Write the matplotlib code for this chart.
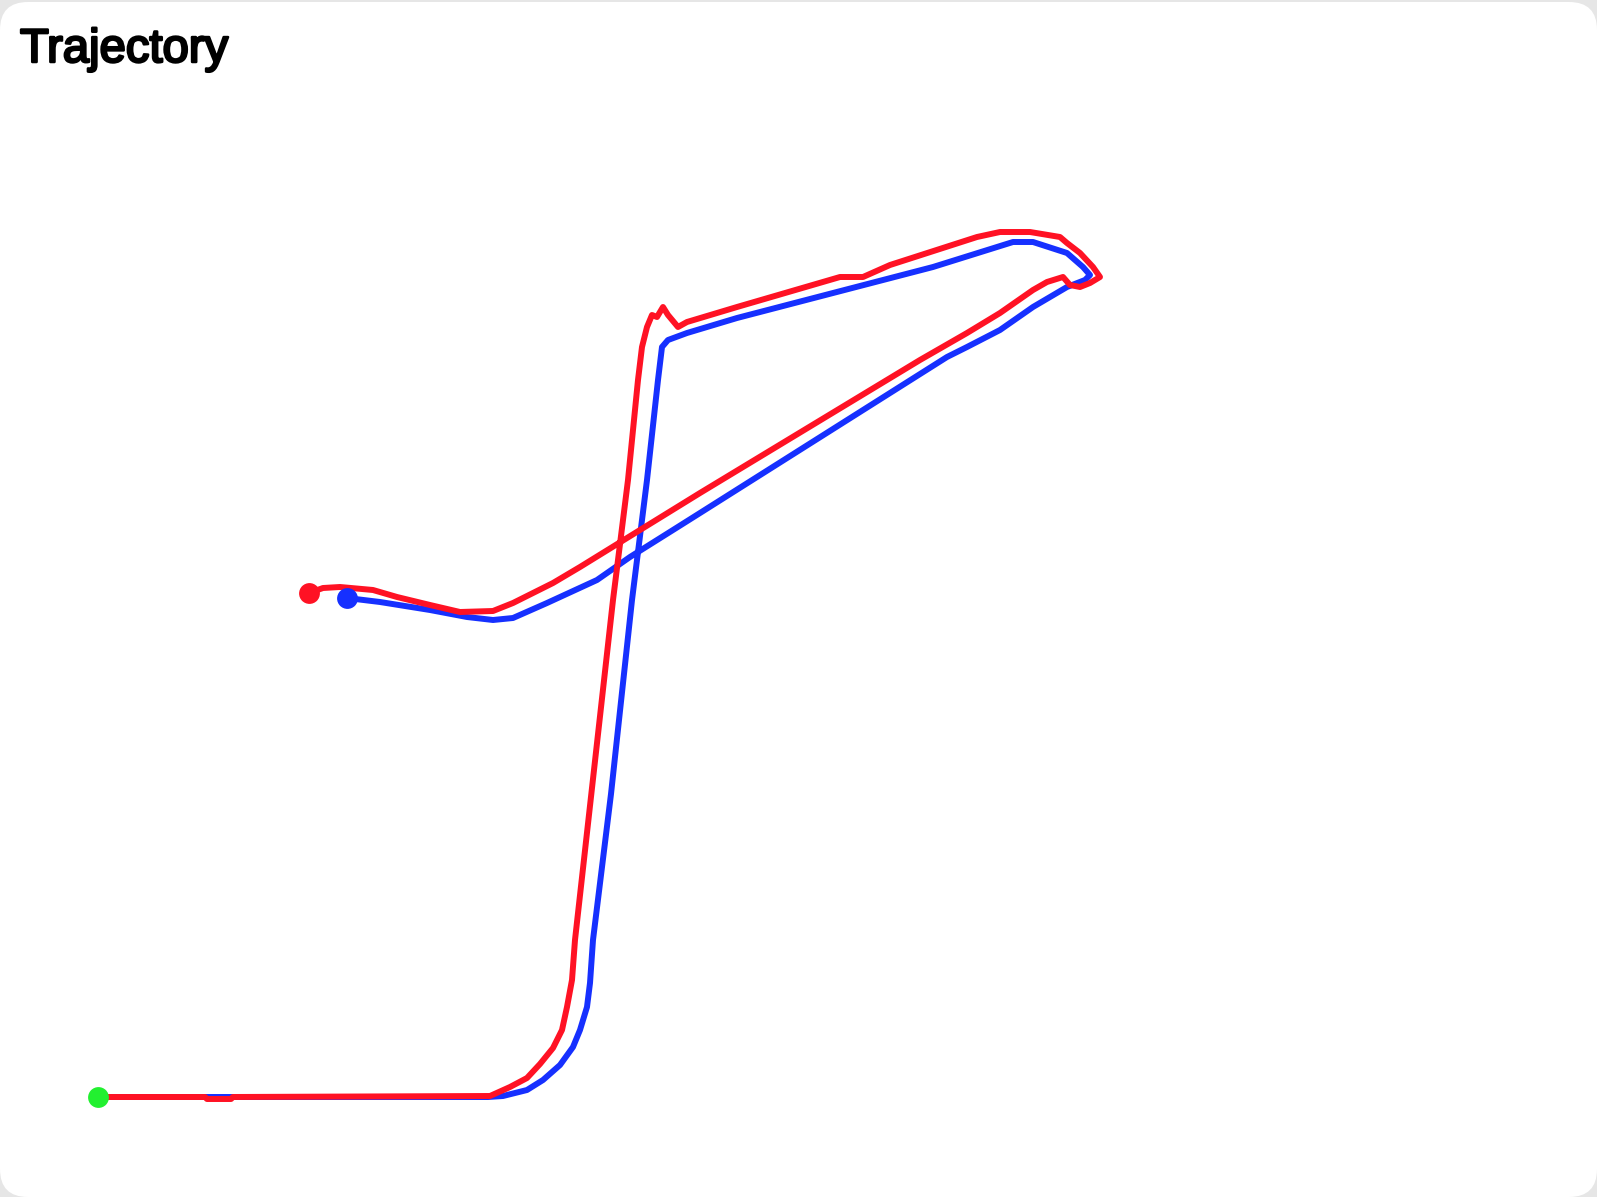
import matplotlib
matplotlib.use("Agg")
import matplotlib.pyplot as plt
from matplotlib.patches import FancyBboxPatch
import matplotlib.patheffects as pe

# Trajectory data (image-plane coordinates, y grows downward)
start_point = (98, 1097)

blue_x = [98, 488, 503, 527, 543, 560, 573, 580, 587, 590, 593, 611, 632, 647, 658, 662, 668,
          687, 737, 833, 933, 1013, 1033, 1067, 1083, 1090, 1085, 1067, 1033, 1000, 967, 947,
          700, 673, 630, 597, 547, 513, 493, 467, 430, 380, 347]
blue_y = [1097, 1097, 1096, 1090, 1080, 1065, 1047, 1030, 1007, 983, 940, 794, 600, 480, 380, 347, 340,
          333, 318, 293, 267, 242, 242, 253, 267, 275, 280, 287, 307, 330, 347, 357,
          513, 530, 557, 580, 603, 618, 620, 617, 610, 602, 598]

red_x = [98, 205, 207, 231, 233, 490, 510, 527, 540, 553, 562, 567, 572, 575, 613, 628, 638,
         642, 647, 652, 657, 663, 668, 678, 687, 737, 840, 863, 890, 977, 1000, 1030, 1060,
         1067, 1080, 1093, 1100, 1090, 1080, 1070, 1063, 1047, 1033, 1000, 967, 920, 700,
         640, 580, 553, 513, 493, 460, 430, 397, 373, 340, 323, 309]
red_y = [1097, 1097, 1099, 1099, 1097, 1096, 1087, 1078, 1064, 1048, 1030, 1007, 980, 940, 600, 480, 380,
         347, 327, 315, 317, 307, 315, 327, 322, 307, 277, 277, 265, 237, 232, 232, 237,
         243, 253, 267, 277, 283, 287, 285, 277, 282, 290, 313, 333, 360, 493,
         530, 567, 583, 603, 611, 612, 605, 597, 590, 587, 588, 593]

title_text = "Trajectory"

W, H = 1597, 1197
fig = plt.figure(figsize=(W / 100, H / 100), dpi=100)
fig.patch.set_facecolor("#e6e6e6")

card = FancyBboxPatch((0, 0), W, H - 2, boxstyle="round,pad=0,rounding_size=28",
                      transform=None, facecolor="white", edgecolor="none", zorder=-5)
fig.patches.append(card)

ax = fig.add_axes([0, 0, 1, 1])
ax.set_zorder(2)
ax.set_xlim(0, W)
ax.set_ylim(H, 0)
ax.axis("off")
ax.patch.set_alpha(0)

blue = "#1630ff"
red = "#ff1224"
green = "#22f030"

ax.plot(blue_x, blue_y, color=blue, lw=4.3, solid_joinstyle="round", solid_capstyle="round", zorder=2)
ax.plot(red_x, red_y, color=red, lw=4.3, solid_joinstyle="round", solid_capstyle="round", zorder=3)
ax.plot(blue_x[-1], blue_y[-1], "o", color=blue, ms=15, mec="none", zorder=4)
ax.plot(red_x[-1], red_y[-1], "o", color=red, ms=15, mec="none", zorder=4)
ax.plot(start_point[0], start_point[1], "o", color=green, ms=15, mec="none", zorder=5)

fig.text(20 / W, 1 - 62 / H, title_text, fontsize=34, family="Liberation Sans",
         color="black", va="baseline", ha="left", zorder=5,
         path_effects=[pe.withStroke(linewidth=1.8, foreground="black")])

fig.savefig("out.png", dpi=100, facecolor=fig.get_facecolor())
